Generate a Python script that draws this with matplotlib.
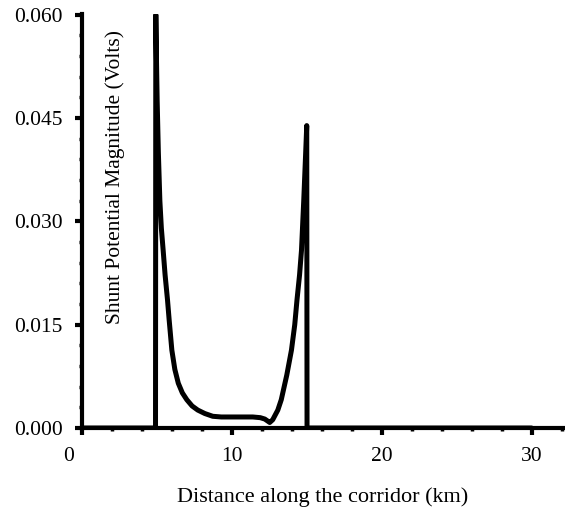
import numpy as np
from matplotlib import pyplot as plt
from matplotlib.transforms import ScaledTranslation

# distance along the corridor (km) and shunt potential magnitude (V)
dist = [0.0, 4.91, 4.93, 4.97, 5.02, 5.10, 5.20, 5.30, 5.42, 5.55, 5.71, 5.82,
        6.00, 6.20, 6.43, 6.70, 7.00, 7.35, 7.73, 8.20, 8.73, 9.30, 9.87,
        10.6, 11.4, 11.9, 12.2, 12.4, 12.53, 12.73, 13.07, 13.30, 13.67,
        13.98, 14.20, 14.35, 14.52, 14.65, 14.80, 14.93, 15.00, 15.02, 30.0]
volts = [0.0, 0.0, 0.0600, 0.0540, 0.0475, 0.0400, 0.0330, 0.0290, 0.0258,
         0.0222, 0.0186, 0.0157, 0.0113, 0.0085, 0.0065, 0.0051, 0.0041,
         0.0032, 0.0026, 0.0021, 0.0017, 0.0016, 0.0016, 0.0016, 0.0016,
         0.0015, 0.0013, 0.0010, 0.0008, 0.0012, 0.0026, 0.0041, 0.0077,
         0.0113, 0.0150, 0.0186, 0.0222, 0.0258, 0.0330, 0.0400, 0.0439,
         0.0, 0.0]

yticks = [0.0, 0.015, 0.030, 0.045, 0.060]
xticks = [0, 10, 20, 30]

plt.rcParams['font.family'] = ['Liberation Serif', 'DejaVu Serif']

fig = plt.figure(figsize=(5.65, 5.13), dpi=100)
ax = fig.add_axes([0.145, 0.1657, 0.8515, 0.807])

ax.plot(dist, volts, color='black', lw=3.6, solid_capstyle='round',
        solid_joinstyle='round')

ax.set_xlim(0, 32.1)
ax.set_ylim(0, 0.0601)
ax.set_xticks(xticks)
ax.set_xticks(np.arange(0, 32.1, 2), minor=True)
ax.set_yticks(yticks)
ax.set_yticklabels(['%.3f' % v for v in yticks])
ax.set_yticks(np.arange(0, 0.0601, 0.003), minor=True)

for s in ['top', 'right']:
    ax.spines[s].set_visible(False)
for s in ['left', 'bottom']:
    ax.spines[s].set_linewidth(3)

ax.tick_params(which='major', length=5, width=3, labelsize=15.5, pad=9)
ax.tick_params(which='minor', length=2.5, width=2.5)

# the "0" label sits left of the y axis in the original
lbl0 = ax.get_xticklabels()[0]
lbl0.set_transform(lbl0.get_transform() + ScaledTranslation(-0.13, 0, fig.dpi_scale_trans))

ax.set_xlabel('Distance along the corridor (km)', fontsize=16, labelpad=15)
ax.text(0.069, 0.606, 'Shunt Potential Magnitude (Volts)', rotation=90,
        ha='center', va='center', fontsize=15.5, transform=ax.transAxes)

plt.savefig('out.png')
